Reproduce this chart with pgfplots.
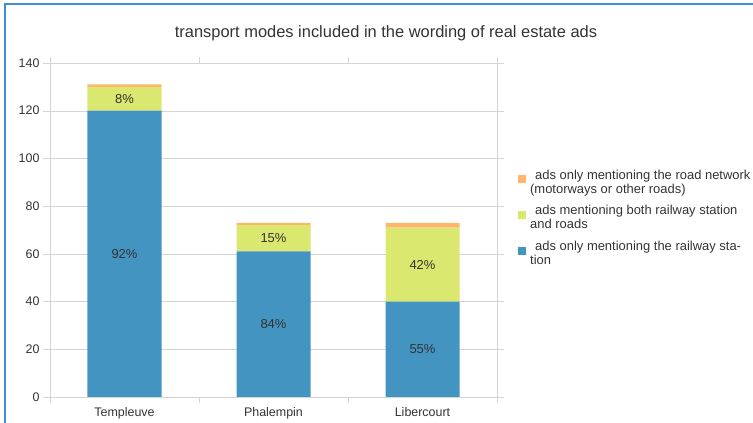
\documentclass[border=0pt]{standalone}
\usepackage{pgfplots}
\pgfplotsset{compat=1.18}
\usepackage{pgfplotstable}
\usepackage{fontspec}
\setmainfont{Liberation Sans}

\definecolor{cblue}{HTML}{4394C0}
\definecolor{cgreen}{HTML}{DAE86F}
\definecolor{corange}{HTML}{FFB66C}
\definecolor{cgrid}{HTML}{D4D4D4}
\definecolor{ctext}{HTML}{333333}
\definecolor{cframe}{HTML}{3D8FD6}

\pgfplotstableread{
x blue green orange bl gl
0 120 10 1 92 8
1 61 11 1 84 15
2 40 31 2 55 42
}\data

\begin{document}
\begin{tikzpicture}
\path[use as bounding box] (0bp,0bp) rectangle (753bp,423bp);
\draw[cframe, line width=1.5bp] (5bp,0bp) -- (5bp,419bp) -- (753bp,419bp);
\node[font=\fontsize{16.5}{19}\selectfont, text=ctext] at (386bp,390bp) {transport modes included in the wording of real estate ads};
\begin{axis}[
  at={(50bp,26bp)}, anchor=south west,
  scale only axis, width=447bp, height=334bp,
  ybar stacked, bar width=74bp,
  xmin=-0.5, xmax=2.5, ymin=0, ymax=140,
  ytick={0,20,...,140},
  xtick={0,1,2}, xticklabels={Templeuve,Phalempin,Libercourt},
  minor xtick={-0.5,0.5,1.5,2.5},
  major x tick style={draw=none},
  minor x tick style={cgrid},
  y tick style={cgrid},
  tick align=outside, major tick length=7bp, minor tick length=6bp,
  ymajorgrids, grid style={cgrid},
  axis line style={cgrid},
  ticklabel style={font=\fontsize{12.5}{14}\selectfont, text=ctext},
  /pgf/number format/assume math mode=true,
  reverse legend,
  legend cell align=left,
  legend style={at={(1,0.536)}, anchor=west, xshift=18bp, draw=none, fill=none,
    font=\fontsize{13}{14}\selectfont, text=ctext, cells={align=left},
    row sep=7bp},
  legend image code/.code={\fill[#1] (0bp,-1bp) rectangle (8bp,7bp);},
]
\addplot[fill=cblue, draw=none,
  nodes near coords={\pgfplotspointmeta\%}, point meta=explicit symbolic,
  every node near coord/.append style={anchor=center, font=\fontsize{13}{14}\selectfont, text=ctext}]
  table[x=x, y=blue, meta=bl] {\data};
\addlegendentry{\hspace{7bp}ads only mentioning the railway sta-\\\hspace{2bp}tion}
\addplot[fill=cgreen, draw=none,
  nodes near coords={\pgfplotspointmeta\%}, point meta=explicit symbolic,
  every node near coord/.append style={anchor=center, font=\fontsize{13}{14}\selectfont, text=ctext}]
  table[x=x, y=green, meta=gl] {\data};
\addlegendentry{\hspace{7bp}ads mentioning both railway station\\\hspace{2bp}and roads}
\addplot[fill=corange, draw=none]
  table[x=x, y=orange] {\data};
\addlegendentry{\hspace{7bp}ads only mentioning the road network\\\hspace{2bp}(motorways or other roads)}
\end{axis}
\end{tikzpicture}
\end{document}
